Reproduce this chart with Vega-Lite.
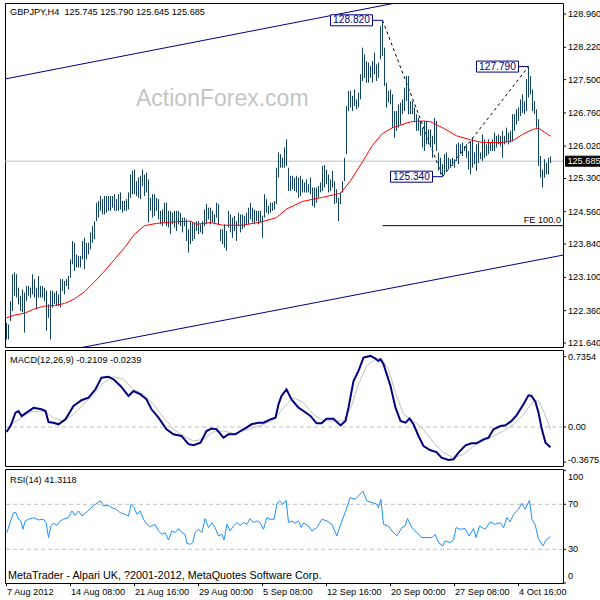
{
"$schema":"https://vega.github.io/schema/vega-lite/v6.json",
"background":"#ffffff",
"padding":{"left":2,"top":2,"right":0,"bottom":0},
"autosize":{"type":"pad"},
"spacing":3,
"bounds":"flush",
"config":{
 "view":{"stroke":"#000000","strokeWidth":1},
 "axis":{"disable":true},
 "text":{"font":"Liberation Sans"}
},
"datasets":{
 "bars":[
{"i":0,"h":122.09,"l":121.72},{"i":1,"h":122.05,"l":121.72},{"i":2,"h":122.57,"l":122.13},{"i":3,"h":123.17,"l":122.35},{"i":4,"h":123.21,"l":122.69},{"i":5,"h":123.17,"l":122.65},{"i":6,"h":122.87,"l":122.5},{"i":7,"h":122.69,"l":122.35},{"i":8,"h":122.83,"l":122.32},{"i":9,"h":122.76,"l":121.87},
{"i":10,"h":122.91,"l":122.57},{"i":11,"h":122.91,"l":122.69},{"i":12,"h":122.87,"l":122.65},{"i":13,"h":123.17,"l":122.72},{"i":14,"h":123.06,"l":122.65},{"i":15,"h":122.87,"l":122.39},{"i":16,"h":123.13,"l":122.65},{"i":17,"h":122.91,"l":122.65},{"i":18,"h":122.91,"l":122.65},{"i":19,"h":122.87,"l":122.57},
{"i":20,"h":122.8,"l":121.91},{"i":21,"h":122.5,"l":122.2},{"i":22,"h":122.8,"l":121.72},{"i":23,"h":122.8,"l":122.43},{"i":24,"h":122.76,"l":122.5},{"i":25,"h":122.8,"l":122.46},{"i":26,"h":122.72,"l":122.46},{"i":27,"h":123.06,"l":122.43},{"i":28,"h":123.06,"l":122.8},{"i":29,"h":123.02,"l":122.72},
{"i":30,"h":123.06,"l":122.91},{"i":31,"h":123.13,"l":122.83},{"i":32,"h":123.5,"l":123.09},{"i":33,"h":123.91,"l":123.39},{"i":34,"h":123.87,"l":123.24},{"i":35,"h":123.61,"l":123.32},{"i":36,"h":123.58,"l":123.32},{"i":37,"h":123.58,"l":123.32},{"i":38,"h":123.91,"l":123.5},{"i":39,"h":123.98,"l":123.28},
{"i":40,"h":123.87,"l":123.5},{"i":41,"h":123.87,"l":123.61},{"i":42,"h":124.1,"l":123.72},{"i":43,"h":124.24,"l":123.87},{"i":44,"h":124.35,"l":123.95},{"i":45,"h":124.76,"l":124.35},{"i":46,"h":124.8,"l":124.43},{"i":47,"h":124.91,"l":124.58},{"i":48,"h":124.84,"l":124.5},{"i":49,"h":124.91,"l":124.5},
{"i":50,"h":124.91,"l":124.54},{"i":51,"h":124.91,"l":124.58},{"i":52,"h":124.91,"l":124.58},{"i":53,"h":124.91,"l":124.65},{"i":54,"h":124.95,"l":124.58},{"i":55,"h":124.84,"l":124.58},{"i":56,"h":124.95,"l":124.58},{"i":57,"h":124.99,"l":124.61},{"i":58,"h":124.8,"l":124.54},{"i":59,"h":124.8,"l":124.58},
{"i":60,"h":124.84,"l":124.58},{"i":61,"h":124.99,"l":124.61},{"i":62,"h":125.39,"l":124.87},{"i":63,"h":125.47,"l":124.95},{"i":64,"h":125.5,"l":124.95},{"i":65,"h":125.24,"l":124.91},{"i":66,"h":125.32,"l":124.87},{"i":67,"h":125.36,"l":124.84},{"i":68,"h":125.5,"l":125.13},{"i":69,"h":125.39,"l":124.91},
{"i":70,"h":125.43,"l":124.99},{"i":71,"h":125.28,"l":124.32},{"i":72,"h":124.87,"l":124.58},{"i":73,"h":124.95,"l":124.43},{"i":74,"h":124.95,"l":124.47},{"i":75,"h":124.87,"l":124.58},{"i":76,"h":124.84,"l":124.39},{"i":77,"h":124.58,"l":124.28},{"i":78,"h":124.61,"l":124.24},{"i":79,"h":124.76,"l":124.32},
{"i":80,"h":124.76,"l":124.24},{"i":81,"h":124.58,"l":124.21},{"i":82,"h":124.58,"l":124.06},{"i":83,"h":124.54,"l":124.28},{"i":84,"h":124.58,"l":124.21},{"i":85,"h":124.58,"l":124.13},{"i":86,"h":124.58,"l":124.28},{"i":87,"h":124.54,"l":124.24},{"i":88,"h":124.43,"l":124.1},{"i":89,"h":124.43,"l":124.24},
{"i":90,"h":124.39,"l":123.91},{"i":91,"h":124.17,"l":123.65},{"i":92,"h":124.35,"l":123.84},{"i":93,"h":124.32,"l":123.91},{"i":94,"h":124.32,"l":123.95},{"i":95,"h":124.35,"l":124.13},{"i":96,"h":124.35,"l":124.06},{"i":97,"h":124.28,"l":124.1},{"i":98,"h":124.35,"l":124.06},{"i":99,"h":124.61,"l":124.24},
{"i":100,"h":124.73,"l":124.28},{"i":101,"h":124.65,"l":124.39},{"i":102,"h":124.65,"l":124.28},{"i":103,"h":124.58,"l":124.32},{"i":104,"h":124.5,"l":124.28},{"i":105,"h":124.76,"l":124.43},{"i":106,"h":124.73,"l":124.28},{"i":107,"h":124.17,"l":123.91},{"i":108,"h":124.17,"l":123.84},{"i":109,"h":124.28,"l":123.76},
{"i":110,"h":124.13,"l":123.69},{"i":111,"h":124.58,"l":124.21},{"i":112,"h":124.5,"l":124.1},{"i":113,"h":124.43,"l":123.98},{"i":114,"h":124.47,"l":124.13},{"i":115,"h":124.35,"l":123.91},{"i":116,"h":124.54,"l":124.24},{"i":117,"h":124.5,"l":124.1},{"i":118,"h":124.5,"l":124.17},{"i":119,"h":124.47,"l":124.21},
{"i":120,"h":124.54,"l":124.28},{"i":121,"h":124.65,"l":124.28},{"i":122,"h":124.76,"l":124.39},{"i":123,"h":124.65,"l":124.32},{"i":124,"h":124.61,"l":124.28},{"i":125,"h":124.58,"l":124.35},{"i":126,"h":124.58,"l":124.28},{"i":127,"h":124.58,"l":124.32},{"i":128,"h":124.47,"l":123.98},{"i":129,"h":124.95,"l":124.43},
{"i":130,"h":124.84,"l":124.54},{"i":131,"h":124.69,"l":124.5},{"i":132,"h":124.76,"l":124.54},{"i":133,"h":124.76,"l":124.58},{"i":134,"h":124.8,"l":124.61},{"i":135,"h":125.54,"l":124.73},{"i":136,"h":125.88,"l":125.32},{"i":137,"h":125.84,"l":125.54},{"i":138,"h":125.76,"l":125.54},{"i":139,"h":125.99,"l":125.54},
{"i":140,"h":126.17,"l":125.58},{"i":141,"h":125.54,"l":125.02},{"i":142,"h":125.36,"l":125.02},{"i":143,"h":125.36,"l":125.06},{"i":144,"h":125.32,"l":125.02},{"i":145,"h":125.36,"l":124.99},{"i":146,"h":125.32,"l":124.87},{"i":147,"h":125.36,"l":124.91},{"i":148,"h":125.28,"l":124.99},{"i":149,"h":125.21,"l":124.99},
{"i":150,"h":125.28,"l":124.99},{"i":151,"h":125.17,"l":124.99},{"i":152,"h":125.32,"l":124.95},{"i":153,"h":125.1,"l":124.69},{"i":154,"h":125.1,"l":124.65},{"i":155,"h":125.1,"l":124.76},{"i":156,"h":125.13,"l":124.87},{"i":157,"h":125.21,"l":124.99},{"i":158,"h":125.58,"l":125.02},{"i":159,"h":125.6,"l":125.1},
{"i":160,"h":125.5,"l":125.17},{"i":161,"h":125.39,"l":124.99},{"i":162,"h":125.28,"l":125.02},{"i":163,"h":125.47,"l":125.1},{"i":164,"h":125.24,"l":124.73},{"i":165,"h":125.06,"l":124.76},{"i":166,"h":124.87,"l":124.35},{"i":167,"h":124.99,"l":124.73},{"i":168,"h":125.24,"l":124.99},{"i":169,"h":125.76,"l":125.24},
{"i":170,"h":126.91,"l":125.84},{"i":171,"h":127.25,"l":126.8},{"i":172,"h":127.25,"l":126.88},{"i":173,"h":127.14,"l":126.8},{"i":174,"h":127.28,"l":126.91},{"i":175,"h":127.06,"l":126.84},{"i":176,"h":127.21,"l":126.88},{"i":177,"h":127.62,"l":127.06},{"i":178,"h":128.21,"l":127.47},{"i":179,"h":128.06,"l":127.54},
{"i":180,"h":127.91,"l":127.43},{"i":181,"h":127.88,"l":127.43},{"i":182,"h":127.8,"l":127.54},{"i":183,"h":127.91,"l":127.43},{"i":184,"h":128.1,"l":127.62},{"i":185,"h":127.84,"l":127.47},{"i":186,"h":127.88,"l":127.54},{"i":187,"h":128.69,"l":127.95},{"i":188,"h":128.82,"l":128.03},{"i":189,"h":128.21,"l":127.36},
{"i":190,"h":127.43,"l":126.88},{"i":191,"h":127.25,"l":126.99},{"i":192,"h":127.28,"l":126.95},{"i":193,"h":127.17,"l":126.43},{"i":194,"h":126.8,"l":126.21},{"i":195,"h":126.8,"l":126.36},{"i":196,"h":126.95,"l":126.43},{"i":197,"h":126.99,"l":126.5},{"i":198,"h":127.06,"l":126.73},{"i":199,"h":127.32,"l":126.8},
{"i":200,"h":127.58,"l":127.02},{"i":201,"h":127.58,"l":126.73},{"i":202,"h":127.02,"l":126.73},{"i":203,"h":127.02,"l":126.73},{"i":204,"h":126.88,"l":126.58},{"i":205,"h":126.73,"l":126.36},{"i":206,"h":126.65,"l":126.36},{"i":207,"h":126.58,"l":126.25},{"i":208,"h":126.43,"l":125.99},{"i":209,"h":126.58,"l":125.91},
{"i":210,"h":126.58,"l":126.06},{"i":211,"h":126.39,"l":126.06},{"i":212,"h":126.39,"l":125.99},{"i":213,"h":126.25,"l":125.76},{"i":214,"h":126.65,"l":126.06},{"i":215,"h":126.58,"l":125.91},{"i":216,"h":125.88,"l":125.47},{"i":217,"h":125.76,"l":125.39},{"i":218,"h":125.62,"l":125.34},{"i":219,"h":125.84,"l":125.39},
{"i":220,"h":125.88,"l":125.47},{"i":221,"h":125.76,"l":125.5},{"i":222,"h":125.73,"l":125.54},{"i":223,"h":125.76,"l":125.58},{"i":224,"h":125.73,"l":125.54},{"i":225,"h":126.06,"l":125.69},{"i":226,"h":126.1,"l":125.62},{"i":227,"h":126.06,"l":125.84},{"i":228,"h":126.1,"l":125.8},{"i":229,"h":126.02,"l":125.91},
{"i":230,"h":126.06,"l":125.76},{"i":231,"h":125.91,"l":125.5},{"i":232,"h":126.13,"l":125.39},{"i":233,"h":126.21,"l":125.54},{"i":234,"h":125.88,"l":125.62},{"i":235,"h":126.06,"l":125.47},{"i":236,"h":126.1,"l":125.65},{"i":237,"h":125.88,"l":125.73},{"i":238,"h":126.28,"l":125.69},{"i":239,"h":126.17,"l":125.76},
{"i":240,"h":126.06,"l":125.8},{"i":241,"h":126.17,"l":125.84},{"i":242,"h":126.1,"l":125.91},{"i":243,"h":126.17,"l":125.91},{"i":244,"h":126.32,"l":125.91},{"i":245,"h":126.25,"l":125.99},{"i":246,"h":126.28,"l":126.06},{"i":247,"h":126.25,"l":126.02},{"i":248,"h":126.36,"l":125.76},{"i":249,"h":126.25,"l":126.06},
{"i":250,"h":126.43,"l":126.1},{"i":251,"h":126.32,"l":126.06},{"i":252,"h":126.36,"l":126.1},{"i":253,"h":126.73,"l":126.13},{"i":254,"h":126.73,"l":126.36},{"i":255,"h":126.84,"l":126.5},{"i":256,"h":126.88,"l":126.58},{"i":257,"h":127.06,"l":126.69},{"i":258,"h":127.17,"l":126.76},{"i":259,"h":127.02,"l":126.73},
{"i":260,"h":127.51,"l":126.8},{"i":261,"h":127.79,"l":127.1},{"i":262,"h":127.58,"l":127.17},{"i":263,"h":127.28,"l":126.8},{"i":264,"h":127.02,"l":126.73},{"i":265,"h":126.84,"l":126.43},{"i":266,"h":126.62,"l":125.58},{"i":267,"h":125.8,"l":125.32},{"i":268,"h":125.5,"l":125.1},{"i":269,"h":125.73,"l":125.32},
{"i":270,"h":125.65,"l":125.39},{"i":271,"h":125.76,"l":125.39},{"i":272,"h":125.79,"l":125.645}
 ],
 "ma":[
{"i":0,"v":122.2},{"i":4,"v":122.26},{"i":9,"v":122.3},{"i":14,"v":122.4},{"i":19,"v":122.46},{"i":24,"v":122.47},{"i":29,"v":122.52},{"i":34,"v":122.62},{"i":39,"v":122.78},{"i":44,"v":123.0},{"i":49,"v":123.24},{"i":54,"v":123.5},{"i":59,"v":123.76},{"i":64,"v":124.06},{"i":69,"v":124.25},{"i":75,"v":124.3},{"i":82,"v":124.33},{"i":92,"v":124.35},{"i":95,"v":124.28},{"i":102,"v":124.32},{"i":108,"v":124.26},{"i":118,"v":124.26},{"i":128,"v":124.34},{"i":135,"v":124.43},{"i":140,"v":124.62},{"i":148,"v":124.79},{"i":158,"v":124.88},{"i":167,"v":124.97},{"i":172,"v":125.25},{"i":178,"v":125.67},{"i":183,"v":126.04},{"i":188,"v":126.3},{"i":193,"v":126.43},{"i":202,"v":126.56},{"i":208,"v":126.58},{"i":212,"v":126.56},{"i":218,"v":126.43},{"i":225,"v":126.25},{"i":232,"v":126.16},{"i":238,"v":126.1},{"i":248,"v":126.1},{"i":253,"v":126.14},{"i":258,"v":126.28},{"i":263,"v":126.39},{"i":266,"v":126.42},{"i":269,"v":126.33},{"i":272,"v":126.24}
 ],
 "channel":[
{"line":"upper","i":-0.75,"p":127.514},{"line":"upper","i":278.25,"p":129.93},{"line":"lower","i":-0.75,"p":121.21},{"line":"lower","i":278.25,"p":123.595}
 ],
 "fib":[
{"seg":"ab","i":188,"p":128.82},{"seg":"ab","i":218,"p":125.34},{"seg":"bc","i":218,"p":125.34},{"seg":"bc","i":261,"p":127.79}
 ],
 "fe":[{"i":188,"p":124.25,"label":"FE 100.0"}],
 "pivots":[
{"i":188,"p":128.82,"label":"128.820"},{"i":218,"p":125.34,"label":"125.340"},{"i":261,"p":127.79,"label":"127.790"}
 ],
 "last":[{"p":125.685,"label":"125.685"}],
 "ylab_main":[
{"p":121.64,"label":"121.640"},{"p":122.36,"label":"122.360"},{"p":123.1,"label":"123.100"},{"p":123.84,"label":"123.840"},{"p":124.56,"label":"124.560"},{"p":125.3,"label":"125.300"},{"p":126.02,"label":"126.020"},{"p":126.76,"label":"126.760"},{"p":127.5,"label":"127.500"},{"p":128.22,"label":"128.220"},{"p":128.96,"label":"128.960"}
 ],
 "ylab_macd":[{"v":0.7354,"label":"0.7354"},{"v":0,"label":"0.00"},{"v":-0.3675,"label":"-0.3675"}],
 "ylab_rsi":[{"r":100,"label":"100"},{"r":70,"label":"70"},{"r":30,"label":"30"},{"r":0,"label":"0"}],
 "xlab":[
{"i":0,"label":"7 Aug 2012"},{"i":32,"label":"14 Aug 08:00"},{"i":64,"label":"21 Aug 16:00"},{"i":96,"label":"29 Aug 00:00"},{"i":128,"label":"5 Sep 08:00"},{"i":160,"label":"12 Sep 16:00"},{"i":192,"label":"20 Sep 00:00"},{"i":224,"label":"27 Sep 08:00"},{"i":256,"label":"4 Oct 16:00"}
 ],
 "macd":[
{"i":0,"m":-0.052},{"i":2,"m":0.01},{"i":4.5,"m":0.15},{"i":6,"m":0.167},{"i":7.5,"m":0.115},{"i":10,"m":0.15},{"i":13.5,"m":0.2},{"i":17.5,"m":0.185},{"i":19.5,"m":0.167},{"i":21,"m":0.052},{"i":23.5,"m":0.045},{"i":26,"m":0.028},{"i":29.5,"m":0.08},{"i":33.5,"m":0.22},{"i":37.5,"m":0.28},{"i":41,"m":0.306},{"i":44.5,"m":0.394},{"i":47.5,"m":0.516},{"i":51,"m":0.526},{"i":53.5,"m":0.498},{"i":57,"m":0.429},{"i":61,"m":0.324},{"i":63.5,"m":0.376},{"i":67,"m":0.341},{"i":70,"m":0.289},{"i":72.5,"m":0.185},{"i":76,"m":0.098},{"i":80,"m":-0.024},{"i":83.5,"m":-0.077},{"i":87.5,"m":-0.094},{"i":91,"m":-0.18},{"i":93.5,"m":-0.19},{"i":97,"m":-0.164},{"i":100,"m":-0.042},{"i":102.5,"m":-0.017},{"i":105,"m":-0.024},{"i":108.5,"m":-0.112},{"i":111,"m":-0.077},{"i":114.5,"m":-0.077},{"i":117,"m":-0.042},{"i":120,"m":-0.007},{"i":122.5,"m":0.028},{"i":126,"m":0.045},{"i":128.5,"m":0.045},{"i":132,"m":0.08},{"i":134.5,"m":0.098},{"i":136,"m":0.237},{"i":137.5,"m":0.324},{"i":140,"m":0.394},{"i":142.5,"m":0.289},{"i":146,"m":0.202},{"i":148.5,"m":0.167},{"i":152,"m":0.115},{"i":155,"m":0.038},{"i":157.5,"m":0.038},{"i":160,"m":0.087},{"i":163.5,"m":0.087},{"i":167,"m":0.017},{"i":169.5,"m":0.063},{"i":171,"m":0.202},{"i":173.5,"m":0.481},{"i":176,"m":0.586},{"i":178.5,"m":0.725},{"i":182,"m":0.743},{"i":184.5,"m":0.715},{"i":186,"m":0.69},{"i":187,"m":0.708},{"i":188.5,"m":0.656},{"i":192,"m":0.429},{"i":194.5,"m":0.202},{"i":197,"m":0.063},{"i":199.5,"m":0.045},{"i":201.5,"m":0.087},{"i":203.5,"m":0.028},{"i":206,"m":-0.094},{"i":208.5,"m":-0.199},{"i":212,"m":-0.244},{"i":215,"m":-0.262},{"i":217.5,"m":-0.321},{"i":221,"m":-0.345},{"i":223.5,"m":-0.338},{"i":226,"m":-0.268},{"i":229.5,"m":-0.192},{"i":232.5,"m":-0.171},{"i":235,"m":-0.171},{"i":238.5,"m":-0.129},{"i":241,"m":-0.112},{"i":243.5,"m":-0.024},{"i":247,"m":0.01},{"i":249.5,"m":0.017},{"i":252.5,"m":0.063},{"i":255,"m":0.122},{"i":258.5,"m":0.237},{"i":261,"m":0.331},{"i":262.5,"m":0.324},{"i":264.5,"m":0.261},{"i":266,"m":0.15},{"i":267.5,"m":-0.007},{"i":269.5,"m":-0.164},{"i":272,"m":-0.211}
 ],
 "sig":[
{"i":0,"s":-0.007},{"i":5,"s":0.063},{"i":12,"s":0.157},{"i":18.5,"s":0.167},{"i":23.5,"s":0.098},{"i":28.5,"s":0.063},{"i":33.5,"s":0.132},{"i":38.5,"s":0.237},{"i":43.5,"s":0.341},{"i":48.5,"s":0.464},{"i":53.5,"s":0.526},{"i":58.5,"s":0.498},{"i":63.5,"s":0.394},{"i":68.5,"s":0.341},{"i":73.5,"s":0.237},{"i":78.5,"s":0.098},{"i":83.5,"s":-0.024},{"i":88.5,"s":-0.094},{"i":93.5,"s":-0.146},{"i":98.5,"s":-0.129},{"i":103.5,"s":-0.052},{"i":108.5,"s":-0.042},{"i":113.5,"s":-0.066},{"i":118.5,"s":-0.042},{"i":123.5,"s":-0.007},{"i":128.5,"s":0.028},{"i":133.5,"s":0.073},{"i":138.5,"s":0.202},{"i":143.5,"s":0.306},{"i":148.5,"s":0.254},{"i":153.5,"s":0.132},{"i":158.5,"s":0.063},{"i":163.5,"s":0.063},{"i":168.5,"s":0.063},{"i":172.5,"s":0.219},{"i":176,"s":0.446},{"i":180,"s":0.638},{"i":184.5,"s":0.708},{"i":187.5,"s":0.715},{"i":191,"s":0.603},{"i":194.5,"s":0.359},{"i":198.5,"s":0.132},{"i":203.5,"s":0.063},{"i":208.5,"s":-0.024},{"i":213.5,"s":-0.164},{"i":218.5,"s":-0.268},{"i":223.5,"s":-0.321},{"i":228.5,"s":-0.286},{"i":233.5,"s":-0.199},{"i":238.5,"s":-0.146},{"i":243.5,"s":-0.094},{"i":248.5,"s":-0.042},{"i":253.5,"s":0.028},{"i":258.5,"s":0.132},{"i":263.5,"s":0.272},{"i":266,"s":0.272},{"i":268.5,"s":0.167},{"i":272,"s":-0.024}
 ],
 "rsi":[
{"i":0.2,"r":44.8},{"i":1.8,"r":53.7},{"i":3.5,"r":62.6},{"i":4.7,"r":62.6},{"i":6,"r":56.7},{"i":7.2,"r":55.2},{"i":8.2,"r":47.8},{"i":9.3,"r":55.2},{"i":11,"r":56.7},{"i":13.5,"r":58.1},{"i":16,"r":56.1},{"i":18.5,"r":56.7},{"i":19.8,"r":53.7},{"i":21,"r":40.4},{"i":22.2,"r":50.7},{"i":23.5,"r":53.1},{"i":25.2,"r":51.3},{"i":26.8,"r":55.2},{"i":28.5,"r":56.7},{"i":31,"r":58.1},{"i":32.7,"r":64.1},{"i":34.3,"r":60.2},{"i":36,"r":64.1},{"i":37.7,"r":59.6},{"i":39.8,"r":62.6},{"i":41.8,"r":66.1},{"i":43.8,"r":69.1},{"i":46,"r":72.1},{"i":47.2,"r":73.0},{"i":48.5,"r":68.5},{"i":51,"r":69.1},{"i":52.7,"r":67.0},{"i":54.8,"r":65.6},{"i":56.8,"r":62.6},{"i":59.3,"r":61.1},{"i":61,"r":59.6},{"i":62.3,"r":70.0},{"i":63.8,"r":67.0},{"i":65.2,"r":61.1},{"i":66.8,"r":64.1},{"i":68.5,"r":56.7},{"i":70.2,"r":52.2},{"i":71.8,"r":50.1},{"i":74.3,"r":52.2},{"i":76,"r":46.3},{"i":77.7,"r":43.3},{"i":79.3,"r":44.8},{"i":81,"r":38.3},{"i":82.7,"r":46.3},{"i":84.3,"r":44.8},{"i":86,"r":48.4},{"i":87.7,"r":44.8},{"i":89.3,"r":43.3},{"i":90.2,"r":35.3},{"i":91.8,"r":34.4},{"i":93.2,"r":36.5},{"i":94.3,"r":44.8},{"i":96,"r":47.8},{"i":97.7,"r":44.8},{"i":99.3,"r":57.3},{"i":101,"r":49.3},{"i":102.7,"r":53.7},{"i":104.3,"r":49.3},{"i":106,"r":41.9},{"i":107.7,"r":43.3},{"i":108.8,"r":38.3},{"i":110.2,"r":52.2},{"i":111.8,"r":46.3},{"i":113.5,"r":50.7},{"i":115.2,"r":53.7},{"i":116.8,"r":51.3},{"i":118.5,"r":53.7},{"i":120.2,"r":52.2},{"i":121.8,"r":57.3},{"i":123.5,"r":53.7},{"i":125.2,"r":55.2},{"i":126.8,"r":53.7},{"i":128.5,"r":47.8},{"i":130.2,"r":58.1},{"i":131.8,"r":56.7},{"i":133.8,"r":56.7},{"i":135.2,"r":70.0},{"i":136.5,"r":73.0},{"i":138.2,"r":70.0},{"i":139.8,"r":73.5},{"i":141,"r":53.7},{"i":142.7,"r":55.2},{"i":144.3,"r":53.1},{"i":146,"r":55.2},{"i":147.3,"r":49.3},{"i":148.5,"r":53.4},{"i":151,"r":50.7},{"i":152.7,"r":46.3},{"i":155.2,"r":49.3},{"i":157.7,"r":56.7},{"i":160.2,"r":55.2},{"i":162.7,"r":52.2},{"i":165.2,"r":41.9},{"i":166.8,"r":50.7},{"i":169.3,"r":62.6},{"i":171.8,"r":75.9},{"i":174.3,"r":74.4},{"i":176,"r":77.4},{"i":178.2,"r":81.8},{"i":180.2,"r":73.0},{"i":182.7,"r":71.5},{"i":185.2,"r":70.0},{"i":186,"r":67.0},{"i":187.2,"r":74.4},{"i":188.5,"r":52.2},{"i":191,"r":50.7},{"i":192.7,"r":46.3},{"i":195.2,"r":41.9},{"i":197.7,"r":49.3},{"i":199.3,"r":50.7},{"i":200.5,"r":57.3},{"i":202.7,"r":49.3},{"i":205.2,"r":44.8},{"i":207.7,"r":40.4},{"i":210.2,"r":40.4},{"i":212.7,"r":40.4},{"i":214.3,"r":43.3},{"i":216,"r":35.9},{"i":218.2,"r":33.0},{"i":219.3,"r":37.4},{"i":221.8,"r":35.9},{"i":223.5,"r":38.3},{"i":224.8,"r":49.3},{"i":226.8,"r":47.8},{"i":229.3,"r":48.4},{"i":231.3,"r":41.9},{"i":233.5,"r":48.4},{"i":234.8,"r":40.4},{"i":236.5,"r":50.7},{"i":239.3,"r":47.8},{"i":241.8,"r":54.3},{"i":244.3,"r":52.2},{"i":246.8,"r":53.7},{"i":248.5,"r":49.3},{"i":250.2,"r":58.1},{"i":251.8,"r":54.3},{"i":253.5,"r":61.1},{"i":256,"r":65.6},{"i":257.7,"r":70.9},{"i":259.3,"r":65.6},{"i":261.5,"r":73.5},{"i":262.7,"r":56.7},{"i":264.3,"r":52.2},{"i":266,"r":38.9},{"i":268.2,"r":33.0},{"i":269.8,"r":38.3},{"i":272,"r":41.3}
 ],
 "rsilev":[{"r":70},{"r":30}]
},
"vconcat":[
 {
  "width":558,"height":344,
  "layer":[
   {"data":{"name":"channel"},"mark":{"type":"line","color":"#000080","strokeWidth":1,"clip":true},
    "encoding":{
     "x":{"field":"i","type":"quantitative","scale":{"domain":[-0.75,278.25],"nice":false,"zero":false}},
     "y":{"field":"p","type":"quantitative","scale":{"domain":[121.55,129.205],"nice":false,"zero":false}},
     "detail":{"field":"line"}}},
   {"data":{"values":[{}]},"mark":{"type":"text","align":"left","baseline":"alphabetic","fontSize":23,"color":"#c4c4c4","font":"Liberation Sans"},
    "encoding":{"x":{"datum":64.75,"type":"quantitative"},"y":{"datum":126.91,"type":"quantitative"},"text":{"value":"ActionForex.com"}}},
   {"data":{"name":"last"},"mark":{"type":"rule","color":"#c0c0c0","strokeWidth":1},
    "encoding":{"y":{"field":"p","type":"quantitative"}}},
   {"data":{"name":"fe"},"mark":{"type":"rule","color":"#000000","strokeWidth":1},
    "encoding":{"x":{"field":"i","type":"quantitative"},"x2":{"datum":278.25},"y":{"field":"p","type":"quantitative"}}},
   {"data":{"name":"fe"},"mark":{"type":"text","align":"right","baseline":"alphabetic","dx":-2,"dy":-3,"fontSize":9.2,"color":"#000000"},
    "encoding":{"x":{"datum":278.25,"type":"quantitative"},"y":{"field":"p","type":"quantitative"},"text":{"field":"label"}}},
   {"data":{"name":"fib"},"mark":{"type":"line","color":"#000000","strokeWidth":1,"strokeDash":[3,3]},
    "encoding":{"x":{"field":"i","type":"quantitative"},"y":{"field":"p","type":"quantitative"},"detail":{"field":"seg"}}},
   {"data":{"name":"bars"},"mark":{"type":"rule","color":"#12425f","strokeWidth":1},
    "encoding":{"x":{"field":"i","type":"quantitative"},"y":{"field":"h","type":"quantitative"},"y2":{"field":"l"}}},
   {"data":{"name":"ma"},"mark":{"type":"line","color":"#ff0000","strokeWidth":1},
    "encoding":{"x":{"field":"i","type":"quantitative"},"y":{"field":"v","type":"quantitative"}}},
   {"data":{"name":"pivots"},"mark":{"type":"tick","orient":"horizontal","size":10,"thickness":1,"color":"#000080","opacity":1,"xOffset":-5},
    "encoding":{"x":{"field":"i","type":"quantitative"},"y":{"field":"p","type":"quantitative"}}},
   {"data":{"name":"pivots"},"mark":{"type":"point","shape":"M-1,-0.262H1V0.262H-1Z","size":1764,"filled":true,"fill":"#ffffff","stroke":"#000080","strokeWidth":1,"opacity":1,"xOffset":-31},
    "encoding":{"x":{"field":"i","type":"quantitative"},"y":{"field":"p","type":"quantitative"}}},
   {"data":{"name":"pivots"},"mark":{"type":"text","align":"center","baseline":"middle","dx":-31,"fontSize":10.2,"color":"#000080"},
    "encoding":{"x":{"field":"i","type":"quantitative"},"y":{"field":"p","type":"quantitative"},"text":{"field":"label"}}},
   {"data":{"values":[{}]},"mark":{"type":"text","align":"left","baseline":"middle","fontSize":9.2,"color":"#000000"},
    "encoding":{"x":{"datum":1.75,"type":"quantitative"},"y":{"datum":129.01,"type":"quantitative"},"text":{"value":"GBPJPY,H4\u00a0 125.745 125.790 125.645 125.685"}}},
   {"data":{"name":"ylab_main"},"mark":{"type":"tick","orient":"horizontal","size":3,"thickness":1,"color":"#000000","opacity":1,"xOffset":1.5},
    "encoding":{"x":{"datum":278.25,"type":"quantitative"},"y":{"field":"p","type":"quantitative"}}},
   {"data":{"name":"ylab_main"},"mark":{"type":"text","align":"left","baseline":"middle","dx":5,"fontSize":9.2,"color":"#000000"},
    "encoding":{"x":{"datum":278.25,"type":"quantitative"},"y":{"field":"p","type":"quantitative"},"text":{"field":"label"}}},
   {"data":{"name":"last"},"mark":{"type":"point","shape":"M-1,-0.27H1V0.27H-1Z","size":1369,"filled":true,"fill":"#000000","stroke":"#000000","strokeWidth":1,"opacity":1,"xOffset":21},
    "encoding":{"x":{"datum":278.25,"type":"quantitative"},"y":{"field":"p","type":"quantitative"}}},
   {"data":{"name":"last"},"mark":{"type":"text","align":"center","baseline":"middle","dx":21,"fontSize":9.2,"color":"#ffffff"},
    "encoding":{"x":{"datum":278.25,"type":"quantitative"},"y":{"field":"p","type":"quantitative"},"text":{"field":"label"}}}
  ]
 },
 {
  "width":558,"height":116,
  "layer":[
   {"data":{"name":"sig"},"mark":{"type":"line","color":"#c0c0c0","strokeWidth":1},
    "encoding":{
     "x":{"field":"i","type":"quantitative","scale":{"domain":[-0.75,278.25],"nice":false,"zero":false}},
     "y":{"field":"s","type":"quantitative","scale":{"domain":[-0.408,0.805],"nice":false,"zero":false}}}},
   {"data":{"values":[{}]},"mark":{"type":"rule","color":"#c0c0c0","strokeWidth":1,"strokeDash":[4,3]},
    "encoding":{"y":{"datum":0,"type":"quantitative"}}},
   {"data":{"name":"macd"},"mark":{"type":"line","color":"#000080","strokeWidth":2},
    "encoding":{"x":{"field":"i","type":"quantitative"},"y":{"field":"m","type":"quantitative"}}},
   {"data":{"values":[{}]},"mark":{"type":"text","align":"left","baseline":"middle","fontSize":9.2,"color":"#000000"},
    "encoding":{"x":{"datum":1.75,"type":"quantitative"},"y":{"datum":0.7,"type":"quantitative"},"text":{"value":"MACD(12,26,9) -0.2109 -0.0239"}}},
   {"data":{"name":"ylab_macd"},"mark":{"type":"tick","orient":"horizontal","size":3,"thickness":1,"color":"#000000","opacity":1,"xOffset":1.5},
    "encoding":{"x":{"datum":278.25,"type":"quantitative"},"y":{"field":"v","type":"quantitative"}}},
   {"data":{"name":"ylab_macd"},"transform":[{"filter":"datum.v >= 0"}],"mark":{"type":"text","align":"left","baseline":"middle","dx":5,"fontSize":9.2,"color":"#000000"},
    "encoding":{"x":{"datum":278.25,"type":"quantitative"},"y":{"field":"v","type":"quantitative"},"text":{"field":"label"}}},
   {"data":{"name":"ylab_macd"},"transform":[{"filter":"datum.v < 0"}],"mark":{"type":"text","align":"left","baseline":"middle","dx":5,"dy":-2,"fontSize":9.2,"color":"#000000"},
    "encoding":{"x":{"datum":278.25,"type":"quantitative"},"y":{"field":"v","type":"quantitative"},"text":{"field":"label"}}}
  ]
 },
 {
  "width":558,"height":114,
  "layer":[
   {"data":{"name":"rsilev"},"mark":{"type":"rule","color":"#c0c0c0","strokeWidth":1,"strokeDash":[4,3]},
    "encoding":{"y":{"field":"r","type":"quantitative","scale":{"domain":[0,101.4],"nice":false,"zero":false}}}},
   {"data":{"name":"rsi"},"mark":{"type":"line","color":"#1e90ff","strokeWidth":1},
    "encoding":{
     "x":{"field":"i","type":"quantitative","scale":{"domain":[-0.75,278.25],"nice":false,"zero":false}},
     "y":{"field":"r","type":"quantitative"}}},
   {"data":{"values":[{}]},"mark":{"type":"text","align":"left","baseline":"middle","fontSize":9.2,"color":"#000000"},
    "encoding":{"x":{"datum":1.75,"type":"quantitative"},"y":{"datum":91.6,"type":"quantitative"},"text":{"value":"RSI(14) 41.3118"}}},
   {"data":{"values":[{}]},"mark":{"type":"text","align":"left","baseline":"middle","fontSize":10.8,"color":"#000000"},
    "encoding":{"x":{"datum":0.75,"type":"quantitative"},"y":{"datum":6.3,"type":"quantitative"},"text":{"value":"MetaTrader - Alpari UK, ?2001-2012, MetaQuotes Software Corp."}}},
   {"data":{"name":"ylab_rsi"},"mark":{"type":"tick","orient":"horizontal","size":3,"thickness":1,"color":"#000000","opacity":1,"xOffset":1.5},
    "encoding":{"x":{"datum":278.25,"type":"quantitative"},"y":{"field":"r","type":"quantitative"}}},
   {"data":{"name":"ylab_rsi"},"transform":[{"filter":"datum.r > 0 && datum.r < 100"}],"mark":{"type":"text","align":"left","baseline":"middle","dx":5,"fontSize":9.2,"color":"#000000"},
    "encoding":{"x":{"datum":278.25,"type":"quantitative"},"y":{"field":"r","type":"quantitative"},"text":{"field":"label"}}},
   {"data":{"name":"ylab_rsi"},"transform":[{"filter":"datum.r == 100"}],"mark":{"type":"text","align":"left","baseline":"middle","dx":5,"dy":6,"fontSize":9.2,"color":"#000000"},
    "encoding":{"x":{"datum":278.25,"type":"quantitative"},"y":{"field":"r","type":"quantitative"},"text":{"field":"label"}}},
   {"data":{"name":"ylab_rsi"},"transform":[{"filter":"datum.r == 0"}],"mark":{"type":"text","align":"left","baseline":"middle","dx":5,"dy":-7,"fontSize":9.2,"color":"#000000"},
    "encoding":{"x":{"datum":278.25,"type":"quantitative"},"y":{"field":"r","type":"quantitative"},"text":{"field":"label"}}},
   {"data":{"name":"xlab"},"mark":{"type":"tick","orient":"vertical","size":3,"thickness":1,"color":"#000000","opacity":1,"yOffset":1.5},
    "encoding":{"x":{"field":"i","type":"quantitative"},"y":{"datum":0,"type":"quantitative"}}},
   {"data":{"name":"xlab"},"mark":{"type":"text","align":"left","baseline":"top","dx":0.5,"dy":5,"fontSize":9.2,"color":"#000000"},
    "encoding":{"x":{"field":"i","type":"quantitative"},"y":{"datum":0,"type":"quantitative"},"text":{"field":"label"}}}
  ]
 }
]
}
